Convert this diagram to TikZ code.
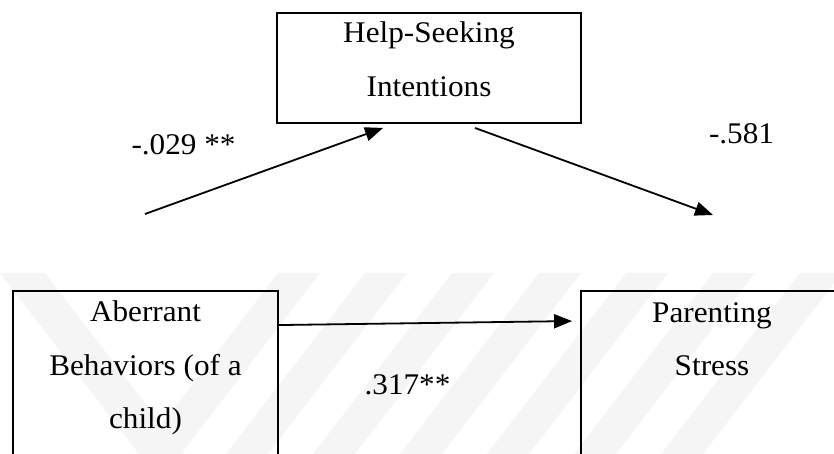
\documentclass[tikz,border=0pt]{standalone}
\usepackage{fontspec}
\setmainfont{Liberation Serif}
\usepackage{graphicx}
\usetikzlibrary{arrows.meta,calc}
\newcommand\sx[1]{\scalebox{1.04}[1]{#1}}
\begin{document}
\begin{tikzpicture}[x=1pt,y=-1pt,
  box/.style={draw, line width=1.9pt, inner sep=0pt},
  txt/.style={anchor=base, inner sep=0pt, font=\fontsize{30}{36}\selectfont},
  conn/.style={line width=1.8pt, -{Triangle[length=18pt,width=14pt]}},
  wm/.style={fill=black!4, draw=none}]
\useasboundingbox (0,0) rectangle (834,454);
\clip (0,0) rectangle (834,454);
% faint watermark
\fill[wm] (0,273) -- (45,273) -- (184,454) -- (139,454) -- cycle;
\foreach \t in {278,365,452,539,626,713,800}
  \fill[wm] (\t,273) -- (\t+42,273) -- (\t-97,454) -- (\t-139,454) -- cycle;
% boxes
\node[box, minimum width=304pt, minimum height=110pt] (hs) at (429,68) {};
\node[box, minimum width=265pt, minimum height=200pt] (ab) at (145.5,391) {};
\node[box, minimum width=265pt, minimum height=200pt] (ps) at (713.5,391) {};
% box texts
\node[txt] (hs1) at (429,43) {\sx{Help-Seeking}};
\node[txt] (hs2) at (429,97) {\sx{Intentions}};
\node[txt] (ab1) at (145.5,321) {\sx{Aberrant}};
\node[txt] (ab2) at (145.5,375) {\sx{Behaviors (of a}};
\node[txt] (ab3) at (145.5,428) {\sx{child)}};
\node[txt] (ps1) at (712,322) {\sx{Parenting}};
\node[txt] (ps2) at (712,375) {\sx{Stress}};
% connectors
\coordinate (p1) at (145,214);
\coordinate (p2) at (713,215);
\draw[conn] (p1) -- ($(hs.south)+(-46,4)$);
\draw[conn] ($(hs.south)+(46,4)$) -- (p2);
\draw[conn] ($(ab.north east)+(0,35)$) -- ($(ps.north west)+(-8,31)$);
% coefficients
\node[txt] (l1) at (183.5,155) {\sx{-.029 **}};
\node[txt] (l2) at (741.5,144) {\sx{-.581}};
\node[txt] (l3) at (407.5,394) {\sx{.317**}};
\end{tikzpicture}
\end{document}
